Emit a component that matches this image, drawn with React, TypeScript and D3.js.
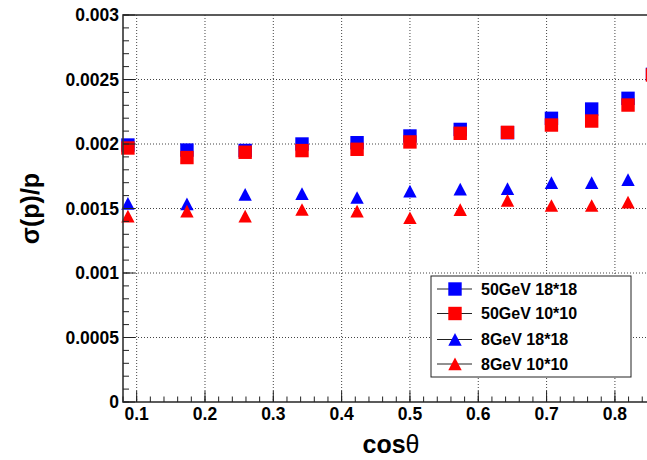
import React from "react";
import * as d3 from "d3";

const cosTheta = [0.0872, 0.1736, 0.2588, 0.342, 0.4226, 0.5, 0.5736, 0.6428, 0.7071, 0.766, 0.8192, 0.855];
const sq50_18 = [0.001992, 0.001953, 0.00195, 0.0020, 0.00201, 0.002062, 0.002113, 0.002088, 0.002199, 0.002271, 0.002354, 0.00254];
const sq50_10 = [0.001969, 0.001895, 0.001936, 0.001949, 0.001959, 0.002016, 0.002083, 0.00209, 0.002147, 0.002178, 0.002302, 0.002535];
const tr8_18 = [0.001539, 0.001536, 0.001609, 0.001615, 0.001585, 0.001634, 0.00165, 0.001654, 0.0017, 0.0017, 0.001723];
const tr8_10 = [0.00144, 0.001479, 0.00144, 0.001492, 0.001479, 0.001428, 0.001491, 0.001562, 0.001523, 0.001523, 0.001549];
const legendLabels = ["50GeV 18*18", "50GeV 10*10", "8GeV 18*18", "8GeV 10*10"];
const xTicks = [0.1, 0.2, 0.3, 0.4, 0.5, 0.6, 0.7, 0.8];
const yTicks = [0, 0.0005, 0.001, 0.0015, 0.002, 0.0025, 0.003];
const yTickLabels = ["0", "0.0005", "0.001", "0.0015", "0.002", "0.0025", "0.003"];

const W = 647, H = 460;
const L = 123, R = 660, T = 15, B = 402;
const FONT = "'Liberation Sans', Arial, Helvetica, sans-serif";

const series = [
  { vals: sq50_18, color: "#0000ff", shape: "square" },
  { vals: sq50_10, color: "#ff0000", shape: "square" },
  { vals: tr8_18, color: "#0000ff", shape: "triangle" },
  { vals: tr8_10, color: "#ff0000", shape: "triangle" },
];

function Marker({ shape, color, x, y }: { shape: string; color: string; x: number; y: number }) {
  if (shape === "square") {
    return <rect x={x - 6.7} y={y - 6.7} width={13.4} height={13.4} fill={color} />;
  }
  return <path d={`M${x},${y - 6.4}L${x + 6.7},${y + 6.3}L${x - 6.7},${y + 6.3}Z`} fill={color} />;
}

export default function App() {
  const x = d3.scaleLinear().domain([0.08, 0.866]).range([L, R]);
  const y = d3.scaleLinear().domain([0, 0.003]).range([B, T]);
  const xMinor = d3.range(0.08, 0.866, 0.02).map((v) => +v.toFixed(3));
  const yMinor = d3.range(0, 0.00301, 0.0001).map((v) => +v.toFixed(5));

  const legX = 431, legY = 276, legW = 200, legH = 101;
  const rowY = [289, 313.5, 339.5, 364];

  return (
    <svg width={W} height={H} style={{ position: "absolute", left: 0, top: 0, background: "#fff" }}>
      <rect x={0} y={0} width={W} height={H} fill="#fff" />
      {/* grid */}
      {xTicks.map((t) => (
        <line key={"gx" + t} x1={x(t)} x2={x(t)} y1={T} y2={B} stroke="#444" strokeWidth={1} strokeDasharray="1,2" />
      ))}
      {yTicks.slice(1, -1).map((t) => (
        <line key={"gy" + t} x1={L} x2={R} y1={y(t)} y2={y(t)} stroke="#444" strokeWidth={1} strokeDasharray="1,2" />
      ))}
      {/* data */}
      {series.map((s, si) =>
        s.vals.map((v, i) => (
          <Marker key={si + "-" + i} shape={s.shape} color={s.color} x={x(cosTheta[i])} y={y(v)} />
        ))
      )}
      {/* frame */}
      <rect x={L} y={T} width={R - L} height={B - T} fill="none" stroke="#333" strokeWidth={1.6} />
      {/* x ticks */}
      {xMinor.map((t) => (
        <line key={"xm" + t} x1={x(t)} x2={x(t)} y1={B} y2={B - 5.5} stroke="#222" strokeWidth={1} />
      ))}
      {xTicks.map((t) => (
        <line key={"xM" + t} x1={x(t)} x2={x(t)} y1={B} y2={B - 11} stroke="#222" strokeWidth={1} />
      ))}
      {xTicks.map((t) => (
        <text key={"xl" + t} x={x(t)} y={420} textAnchor="middle" fontFamily={FONT} fontWeight="bold" fontSize={17.5} fill="#000">
          {t.toFixed(1)}
        </text>
      ))}
      {/* y ticks */}
      {yMinor.map((t) => (
        <line key={"ym" + t} x1={L} x2={L + 6} y1={y(t)} y2={y(t)} stroke="#222" strokeWidth={1} />
      ))}
      {yTicks.map((t) => (
        <line key={"yM" + t} x1={L} x2={L + 12} y1={y(t)} y2={y(t)} stroke="#222" strokeWidth={1} />
      ))}
      {yTicks.map((t, i) => (
        <text key={"yl" + t} x={119} y={y(t)} dy="0.36em" textAnchor="end" fontFamily={FONT} fontWeight="bold" fontSize={17.5} fill="#000">
          {yTickLabels[i]}
        </text>
      ))}
      {/* axis titles */}
      <text x={391} y={453} textAnchor="middle" fontFamily={FONT} fontSize={25} fill="#000">
        <tspan fontWeight="bold">cos</tspan>
        <tspan>θ</tspan>
      </text>
      <text transform={`translate(39,${(T + B) / 2}) rotate(-90)`} textAnchor="middle" fontFamily={FONT} fontWeight="bold" fontSize={25} fill="#000">
        σ(p)/p
      </text>
      {/* legend */}
      <rect x={legX} y={legY} width={legW} height={legH} fill="#fff" stroke="#222" strokeWidth={1} />
      {legendLabels.map((lab, i) => (
        <g key={lab}>
          <line x1={437} x2={472} y1={rowY[i]} y2={rowY[i]} stroke="#222" strokeWidth={1} />
          <Marker shape={series[i].shape} color={series[i].color} x={455} y={rowY[i]} />
          <text x={481} y={rowY[i]} dy="0.36em" fontFamily={FONT} fontWeight="bold" fontSize={16} fill="#000">
            {lab}
          </text>
        </g>
      ))}
    </svg>
  );
}
